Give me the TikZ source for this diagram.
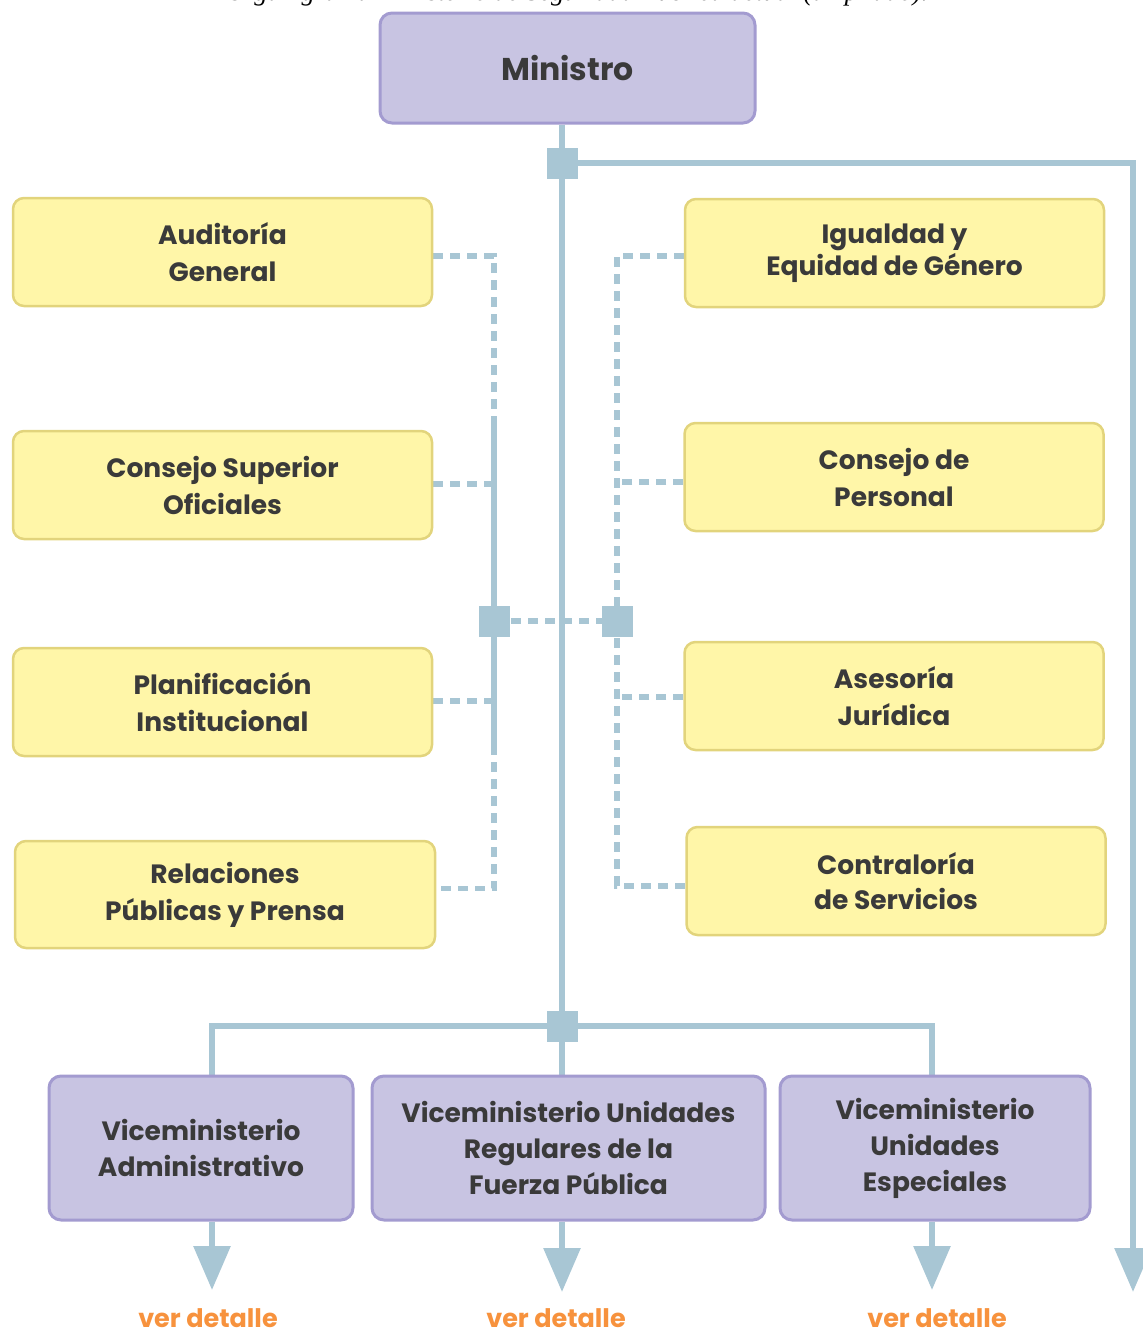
\documentclass[tikz,border=0pt]{standalone}
\usepackage{fontspec}
\setmainfont{Poppins}
\newfontfamily\capfont{Liberation Serif}
\usetikzlibrary{arrows.meta}
\definecolor{lavfill}{HTML}{C8C4E2}
\definecolor{lavline}{HTML}{A39BD0}
\definecolor{yelfill}{HTML}{FFF6A8}
\definecolor{yelline}{HTML}{E2D47C}
\definecolor{lineblue}{HTML}{A8C6D4}
\definecolor{txt}{HTML}{3A3A3A}
\definecolor{orangetxt}{HTML}{F7923D}
\pgfdeclarelayer{bg}
\pgfsetlayers{bg,main}
\tikzset{
  ybox/.style={rectangle, rounded corners=11pt, draw=yelline, fill=yelfill, line width=2.5pt,
    minimum width=419pt, minimum height=108pt, align=center, text=txt, inner sep=0pt,
    font=\bfseries\fontsize{26.5}{37}\selectfont},
  pbox/.style={rectangle, rounded corners=12pt, draw=lavline, fill=lavfill, line width=3pt,
    minimum height=144pt, align=center, text=txt, inner sep=0pt,
    font=\bfseries\fontsize{26.5}{36}\selectfont},
  sline/.style={draw=lineblue, line width=6pt},
  dline/.style={draw=lineblue, line width=5.5pt, dash pattern=on 10pt off 7pt},
  sq/.style={rectangle, fill=lineblue, minimum size=31pt, inner sep=0pt},
  arr/.style={sline, -{Triangle[width=36pt,length=44pt]}},
  vd/.style={text=orangetxt, inner sep=0pt, font=\bfseries\fontsize{25.5}{28}\selectfont}
}
\begin{document}
\begin{tikzpicture}[x=1pt,y=-1pt]
\useasboundingbox (0,0) rectangle (1143,1334);
\clip (0,0) rectangle (1143,1334);
% caption (cut off at top)
\node[anchor=base, inner sep=0pt, text=black, font=\capfont\itshape\fontsize{26.5}{30}\selectfont] (cap) at (577,0.5)
  {Organigrama Ministerio de Seguridad Pública actual (ampliado).};
% boxes
\node[pbox, minimum width=375pt, minimum height=110pt, font=\bfseries\fontsize{31.5}{40}\selectfont] (mini) at (567.5,68) {Ministro};
\node[ybox] (aud) at (222.5,252) {Auditoría\\General};
\node[ybox] (csup) at (222.5,485) {Consejo Superior\\Oficiales};
\node[ybox] (plan) at (222.5,702) {Planificación\\Institucional};
\node[ybox, minimum width=420pt, minimum height=107pt] (rel) at (225,894.5) {Relaciones\\Públicas y Prensa};
\node[ybox, font=\bfseries\fontsize{26.5}{32}\selectfont] (igu) at (894.5,253) {Igualdad y\\Equidad de Género};
\node[ybox] (cper) at (894,477) {Consejo de\\Personal};
\node[ybox] (ases) at (894,696) {Asesoría\\Jurídica};
\node[ybox, font=\bfseries\fontsize{26.5}{35}\selectfont] (contr) at (896,881) {Contraloría\\de Servicios};
\node[pbox, minimum width=304pt] (vadm) at (201,1148) {Viceministerio\\Administrativo};
\node[pbox, minimum width=393pt] (vreg) at (568.5,1148) {Viceministerio Unidades\\Regulares de la\\Fuerza Pública};
\node[pbox, minimum width=310pt] (vesp) at (935,1148) {\raisebox{2pt}{\parbox{300pt}{\centering Viceministerio\\Unidades\\Especiales}}};
% ver detalle
\node[vd] (v1) at (208,1318) {ver detalle};
\node[vd] (v2) at (556,1318) {ver detalle};
\node[vd] (v3) at (937,1318) {ver detalle};
% coordinates
\coordinate (s1) at (562,163);
\coordinate (s2) at (494,621);
\coordinate (s3) at (617,621);
\coordinate (s4) at (562,1026);
\coordinate (lbS) at (494,417);
\coordinate (lbE) at (494,745);
\coordinate (endR) at (1133,1292);
\coordinate (bL) at (212,1026);
\coordinate (bR) at (932,1026);
\coordinate (a1) at (212,1290);
\coordinate (a2) at (562,1292);
\coordinate (a3) at (932,1290);
\begin{pgfonlayer}{bg}
% main trunk
\draw[sline] (mini.south -| s1) -- (s4) -- (s4 |- vreg.north);
\draw[arr] (s1) -| (endR);
% bottom bus
\draw[sline] (vadm.north -| bL) -- (bL) -- (bR) -- (vesp.north -| bR);
% arrows to ver detalle
\draw[arr] (vadm.south -| a1) -- (a1);
\draw[arr] (vreg.south -| a2) -- (a2);
\draw[arr] (vesp.south -| a3) -- (a3);
% left staff bus
\draw[dline] ([yshift=-4pt]aud.east) -- ([yshift=-4pt]aud.east -| s2) -- (lbS);
\draw[sline] (lbS) -- (s2) -- (lbE);
\draw[dline] (lbE) -- ([yshift=6pt]rel.east -| s2) -- ([yshift=6pt]rel.east);
\draw[dline] ([yshift=1pt]csup.east) -- ([yshift=1pt]csup.east -| s2);
\draw[dline] ([yshift=1pt]plan.east) -- ([yshift=1pt]plan.east -| s2);
\draw[dline] (s2) -- (s3);
% right staff bus
\draw[dline] ([yshift=-3pt]igu.west) -- ([yshift=-3pt]igu.west -| s3) -- (s3);
\draw[dline] (s3) -- ([yshift=-5pt]contr.west -| s3) -- ([yshift=-5pt]contr.west);
\draw[dline] ([yshift=-5pt]cper.west) -- ([yshift=-5pt]cper.west -| s3);
\draw[dline] ([yshift=-1pt]ases.west) -- ([yshift=-1pt]ases.west -| s3);
\end{pgfonlayer}
% junction squares
\node[sq] (q1) at (s1) {};
\node[sq] (q2) at (s2) {};
\node[sq] (q3) at (s3) {};
\node[sq] (q4) at (s4) {};
\end{tikzpicture}
\end{document}
